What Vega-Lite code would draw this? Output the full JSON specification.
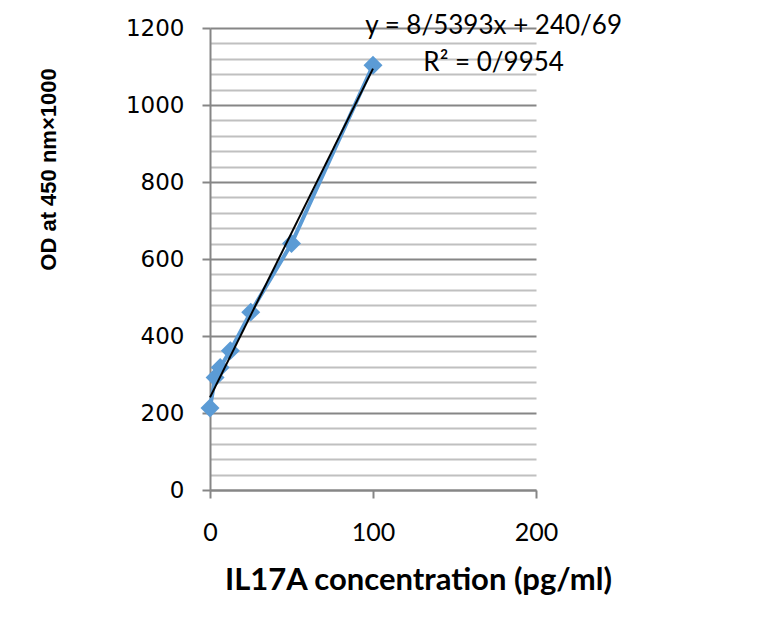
{
  "$schema": "https://vega.github.io/schema/vega-lite/v6.json",
  "width": 326,
  "height": 462,
  "autosize": {"type": "none"},
  "padding": {"left": 210, "top": 28, "right": 232, "bottom": 129},
  "background": "white",
  "config": {"view": {"stroke": null}},
  "datasets": {
    "points": [
      {"conc": 0, "od": 213},
      {"conc": 3.125, "od": 292},
      {"conc": 6.25, "od": 318},
      {"conc": 12.5, "od": 362},
      {"conc": 25, "od": 462},
      {"conc": 50, "od": 640},
      {"conc": 100, "od": 1103}
    ],
    "trend": [
      {"conc": 0, "od": 240.69},
      {"conc": 100, "od": 1094.62}
    ],
    "labels": [
      {"conc": 174, "od": 1205, "text": "y = 8/5393x + 240/69"},
      {"conc": 174, "od": 1109, "text": "R² = 0/9954"}
    ]
  },
  "encoding": {
    "x": {
      "field": "conc",
      "type": "quantitative",
      "scale": {"domain": [0, 200], "nice": false},
      "axis": {
        "values": [0, 100, 200],
        "format": "d",
        "title": "IL17A concentration (pg/ml)",
        "titleFont": "Lato",
        "titleFontSize": 31,
        "titleFontWeight": "bold",
        "titleColor": "black",
        "titleX": 208,
        "titleY": 90,
        "titleBaseline": "middle",
        "titleAnchor": null,
        "labelFont": "Lato",
        "labelFontSize": 25,
        "labelColor": "black",
        "labelPadding": 22,
        "labelFlush": false,
        "tickSize": 8,
        "tickWidth": 2,
        "tickColor": "#868686",
        "domainColor": "#868686",
        "domainWidth": 2,
        "grid": false
      }
    },
    "y": {
      "field": "od",
      "type": "quantitative",
      "scale": {"domain": [0, 1200], "nice": false},
      "axis": {
        "values": [0, 40, 80, 120, 160, 200, 240, 280, 320, 360, 400, 440, 480, 520, 560, 600, 640, 680, 720, 760, 800, 840, 880, 920, 960, 1000, 1040, 1080, 1120, 1160, 1200],
        "format": "d",
        "labelExpr": "datum.value % 200 === 0 ? datum.label : ''",
        "title": "OD at 450 nm×1000",
        "titleFont": "Liberation Sans",
        "titleFontSize": 22,
        "titleFontWeight": "bold",
        "titleColor": "black",
        "titleX": -162,
        "titleY": 141,
        "titleAngle": -90,
        "titleAlign": "center",
        "titleBaseline": "middle",
        "labelFont": "DejaVu Sans",
        "labelFontSize": 23,
        "labelColor": "black",
        "labelPadding": 18,
        "labelFlush": false,
        "labelOverlap": false,
        "tickSize": 8,
        "tickWidth": 2,
        "tickColor": "#868686",
        "tickOpacity": {"condition": {"test": "datum.value % 200 === 0", "value": 1}, "value": 0},
        "domainColor": "#868686",
        "domainWidth": 2,
        "grid": true,
        "gridColor": {"condition": {"test": "datum.value % 200 === 0", "value": "#868686"}, "value": "#c0c0c0"},
        "gridWidth": 2
      }
    }
  },
  "layer": [
    {
      "data": {"name": "points"},
      "mark": {"type": "line", "color": "#5b9bd5", "strokeWidth": 4}
    },
    {
      "data": {"name": "points"},
      "mark": {"type": "point", "shape": "diamond", "filled": true, "color": "#5b9bd5", "opacity": 1, "size": 360}
    },
    {
      "data": {"name": "trend"},
      "mark": {"type": "line", "color": "black", "strokeWidth": 2}
    },
    {
      "data": {"name": "labels"},
      "mark": {"type": "text", "font": "Lato", "fontSize": 26, "color": "black", "align": "center", "baseline": "middle"},
      "encoding": {"text": {"field": "text"}}
    }
  ]
}
